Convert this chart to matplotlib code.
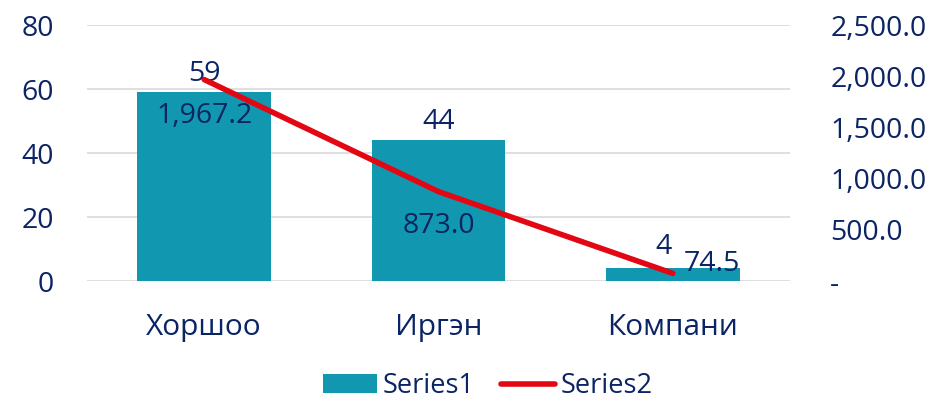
import matplotlib
matplotlib.use("Agg")
import matplotlib.pyplot as plt
from matplotlib.ticker import FuncFormatter

categories = ["Хоршоо", "Иргэн", "Компани"]
series1 = [59, 44, 4]
series2 = [1967.2, 873.0, 74.5]
left_ticks = [0, 20, 40, 60, 80]
right_ticks = [0, 500, 1000, 1500, 2000, 2500]

navy = "#0B2465"
teal = "#1198B0"
red = "#E30613"
plt.rcParams['font.family'] = ['Open Sans', 'DejaVu Sans']
fs = 20.5

fig = plt.figure(figsize=(9.33, 4.05), dpi=100)
ax = fig.add_axes([87/933, 1-281/405, (790-87)/933, (281-25)/405])
ax2 = ax.twinx()

x = list(range(len(categories)))
bars = ax.bar(x, series1, width=0.57, color=teal, label="Series1", zorder=2)
ax.set_xlim(-0.5, 2.5)
ax.set_ylim(0, 80)
ax.set_yticks(left_ticks)
ax.grid(axis='y', color="#D9D9D9", linewidth=1.2, zorder=0)
ax.set_axisbelow(True)
for s in ax.spines.values():
    s.set_visible(False)
for s in ax2.spines.values():
    s.set_visible(False)
ax.tick_params(axis='y', length=0, labelsize=fs, labelcolor=navy, pad=24)
ax.tick_params(axis='x', length=0, labelsize=21.5, labelcolor=navy, pad=23)
ax.set_xticks(x)
ax.set_xticklabels(categories)

line, = ax2.plot(x, series2, color=red, linewidth=4, solid_capstyle='round', label="Series2", zorder=3)
ax2.set_ylim(0, 2500)
ax2.set_yticks(right_ticks)
ax2.yaxis.set_major_formatter(FuncFormatter(lambda v, p: "-" if v == 0 else f"{v:,.1f}"))
ax2.tick_params(axis='y', length=0, labelsize=fs, labelcolor=navy, pad=29)

bar_offsets = [(0, 3), (0, 3), (-7, 5)]
for xi, v, off in zip(x, series1, bar_offsets):
    ax.annotate(f"{v}", (xi, v), xytext=off, textcoords='offset points',
                ha='center', va='bottom', fontsize=fs, color=navy, zorder=5)

offsets = [((0, -16), 'center', 'top'), ((0, -15), 'center', 'top'), ((8, 7), 'left', 'center')]
for xi, v, (off, ha, va) in zip(x, series2, offsets):
    ax2.annotate(f"{v:,.1f}", (xi, v), xytext=off, textcoords='offset points',
                 ha=ha, va=va, fontsize=fs, color=navy, zorder=5)

fig.legend(handles=[bars, line], labels=["Series1", "Series2"], loc='center',
           bbox_to_anchor=(488/933, 1 - 386/405), ncol=2, frameon=False,
           fontsize=19.5, labelcolor=navy, handlelength=2.0, handletextpad=0.22, columnspacing=0.95)

fig.savefig("out.png", dpi=100)
